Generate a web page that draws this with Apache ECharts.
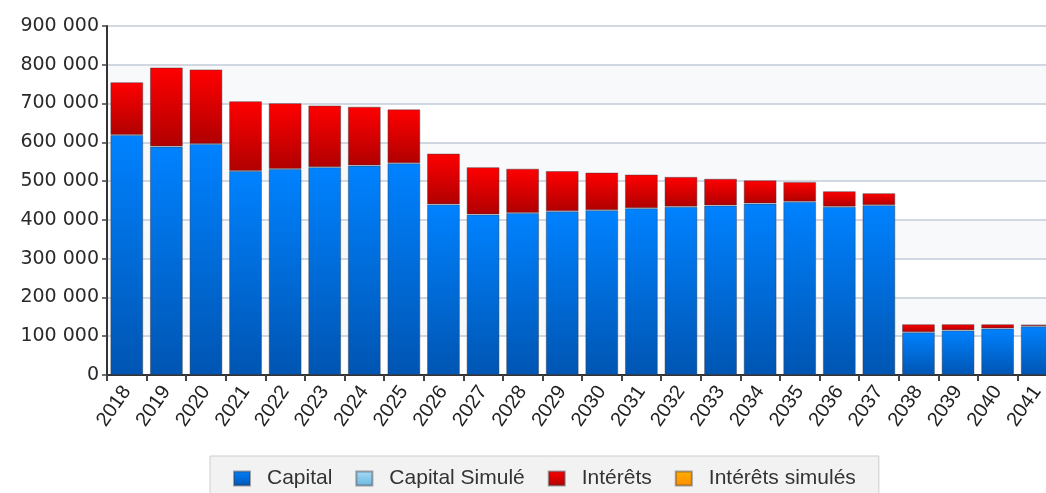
<!DOCTYPE html>
<html>
<head>
<meta charset="utf-8">
<script src="https://cdn.jsdelivr.net/npm/echarts@6/dist/echarts.min.js"></script>
<style>
  html, body { margin: 0; padding: 0; background: #ffffff; }
  #chart { width: 1046px; height: 493px; }
</style>
</head>
<body>
<div id="chart"></div>
<script>
// Years of the repayment schedule
const years = ['2018','2019','2020','2021','2022','2023','2024','2025','2026','2027','2028','2029',
               '2030','2031','2032','2033','2034','2035','2036','2037','2038','2039','2040','2041'];

// Capital repaid per year
const capital = [619000, 589000, 596000, 526000, 531000, 536000, 540000, 546000, 440000, 414000, 418000, 422000,
                 425000, 430000, 434000, 437000, 442000, 447000, 434000, 438000, 110000, 115000, 120000, 125500];

// Interest paid per year
const interets = [136000, 204000, 192000, 180000, 170000, 159000, 152000, 139000, 131000, 122000, 114000, 104000,
                  97000, 87000, 77000, 69000, 60000, 51000, 40000, 31000, 21000, 16000, 11000, 5000];

// Simulated series (no values in this schedule, shown in the legend only)
const capitalSimule = [];
const interetsSimules = [];

// Value axis range
const yMin = 0;
const yMax = 900000;
const yStep = 100000;

function vGrad(top, bottom) {
  return new echarts.graphic.LinearGradient(0, 0, 0, 1, [
    { offset: 0, color: top },
    { offset: 1, color: bottom }
  ]);
}

function fmtSpace(v) {
  return String(v).replace(/\B(?=(\d{3})+(?!\d))/g, ' ');
}

const barBorder = { borderColor: 'rgba(60,60,70,0.45)', borderWidth: 1 };

const chart = echarts.init(document.getElementById('chart'), null, { renderer: 'canvas' });

chart.setOption({
  animation: false,
  backgroundColor: '#ffffff',
  grid: { left: 107, top: 26, width: 950, height: 349, containLabel: false, outerBoundsMode: 'none' },
  legend: {
    data: ['Capital', 'Capital Simulé', 'Intérêts', 'Intérêts simulés'],
    left: 210,
    top: 456,
    orient: 'horizontal',
    icon: 'rect',
    itemWidth: 16,
    itemHeight: 14,
    itemGap: 23,
    padding: [12, 23, 24, 23],
    backgroundColor: '#f2f2f2',
    borderColor: '#cdcdcd',
    borderWidth: 1,
    textStyle: {
      fontFamily: '"Liberation Sans", Arial, sans-serif',
      fontSize: 21,
      color: '#333333',
      padding: [0, 0, 0, 12]
    }
  },
  xAxis: {
    type: 'category',
    data: years,
    boundaryGap: true,
    axisLine: { show: true, lineStyle: { color: '#333333', width: 2 } },
    axisTick: { show: true, length: 6, lineStyle: { color: '#444444', width: 2 } },
    axisLabel: {
      rotate: 55,
      margin: 13,
      interval: 0,
      fontFamily: '"Liberation Sans", Arial, sans-serif',
      fontSize: 20,
      color: '#222222'
    },
    splitLine: { show: false }
  },
  yAxis: {
    type: 'value',
    min: yMin,
    max: yMax,
    interval: yStep,
    axisLine: { show: true, lineStyle: { color: '#333333', width: 2 } },
    axisTick: { show: true, length: 5, lineStyle: { color: '#444444', width: 1.5 } },
    axisLabel: {
      margin: 8,
      fontFamily: '"DejaVu Sans", Verdana, sans-serif',
      fontSize: 19,
      color: '#2a2a2a',
      formatter: fmtSpace
    },
    splitLine: { show: true, lineStyle: { color: '#c3cbd7', width: 1.5 } },
    splitArea: { show: true, areaStyle: { color: ['#ffffff', '#f8f9fa'] } }
  },
  series: [
    {
      name: 'Capital',
      type: 'bar',
      stack: 'total',
      data: capital,
      barCategoryGap: '17%',
      itemStyle: Object.assign({ color: vGrad('#0082ff', '#0055b2') }, barBorder)
    },
    {
      name: 'Capital Simulé',
      type: 'bar',
      stack: 'total',
      data: capitalSimule,
      itemStyle: Object.assign({ color: vGrad('#a6dcf7', '#6cb6de') }, barBorder)
    },
    {
      name: 'Intérêts',
      type: 'bar',
      stack: 'total',
      data: interets,
      itemStyle: Object.assign({ color: vGrad('#ff0000', '#b00000') }, barBorder)
    },
    {
      name: 'Intérêts simulés',
      type: 'bar',
      stack: 'total',
      data: interetsSimules,
      itemStyle: Object.assign({ color: vGrad('#ffb000', '#ff8c00') }, barBorder)
    }
  ]
});
</script>
</body>
</html>
